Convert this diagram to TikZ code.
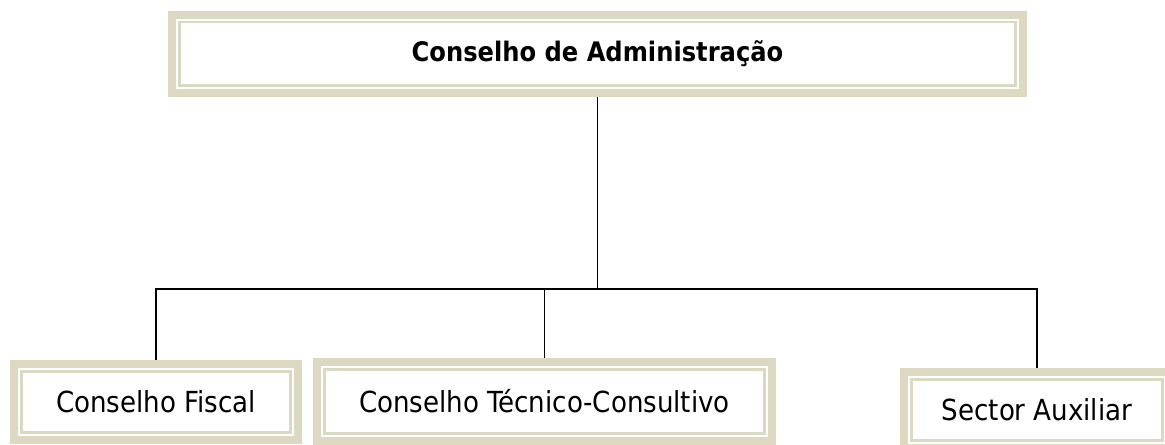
\documentclass[tikz,border=0pt]{standalone}
\usepackage{fontspec}
\setmainfont{DejaVu Sans Condensed}
\definecolor{framegray}{RGB}{221,216,193}
\tikzset{
	orgbox/.style={draw=framegray, line width=0.16cm, fill=white, inner sep=0pt,
		font=\fontsize{16.5}{20}\selectfont,
		path picture={\draw[framegray, line width=0.05cm]
			([shift={(0.145cm,0.145cm)}]path picture bounding box.south west) rectangle
			([shift={(-0.145cm,-0.145cm)}]path picture bounding box.north east);}},
	link/.style={line width=1pt, black}
}
\begin{document}
\begin{tikzpicture}[x=0.02cm, y=0.02cm]
			\clip[use as bounding box] (0,0) rectangle (1165,445);
			% boxes
			\node[orgbox, minimum width=17.02cm, minimum height=1.56cm] (admin) at (597.5,391) {\fontsize{15.3}{18}\selectfont\textbf{Conselho de Administração}};
			\node[orgbox, minimum width=5.68cm, minimum height=1.52cm] (fiscal) at (156,43) {Conselho Fiscal};
			\node[orgbox, minimum width=9.1cm, minimum height=1.58cm] (tecnico) at (544.5,43.5) {Conselho Técnico-Consultivo};
			\node[orgbox, minimum width=5.32cm, minimum height=1.52cm] (auxiliar) at (1037,35) {Sector Auxiliar};
			% connectors
			\coordinate (bar) at (0,156);
			\draw[link] (admin.south) -- (admin.south |- bar);
			\draw[link] (fiscal.north) |- (tecnico.north |- bar) -| (auxiliar.north);
			\draw[link] (tecnico.north |- bar) -- (tecnico.north);
		\end{tikzpicture}
\end{document}
